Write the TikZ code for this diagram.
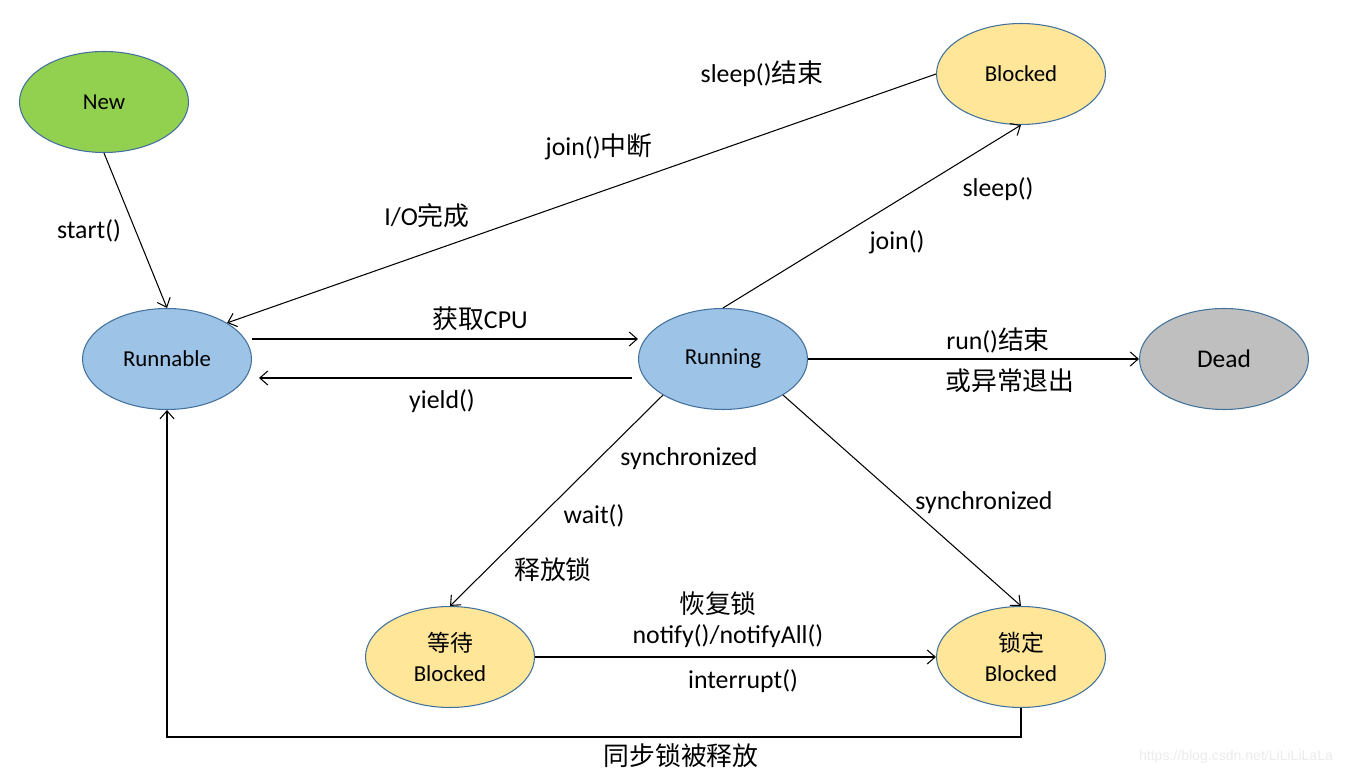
\documentclass[tikz,border=0pt]{standalone}
\usepackage{fontspec}
\setmainfont{Carlito}
\newfontfamily\cjk{Noto Sans CJK SC}
\newfontfamily\wmfont{Liberation Sans}
\usetikzlibrary{shapes.geometric,arrows.meta}

\definecolor{edgeblue}{HTML}{41719C}
\definecolor{newgreen}{HTML}{92D050}
\definecolor{blockyellow}{HTML}{FFE699}
\definecolor{runblue}{HTML}{9DC3E6}
\definecolor{deadgray}{HTML}{BFBFBF}

\newcommand{\zh}[1]{{\cjk #1}}

\tikzset{
  state/.style={ellipse, draw=edgeblue, line width=0.6pt, minimum width=3.38cm,
    minimum height=2.02cm, inner sep=0pt, align=center, font=\fontsize{13}{16}\selectfont},
  lbl/.style={font=\fontsize{14.7}{17}\selectfont, inner sep=0pt},
  trans/.style={line width=0.6pt, -{Straight Barb[length=1.6mm,width=2.8mm]}}
}

\begin{document}
\begin{tikzpicture}[x=0.02cm, y=-0.02cm]
    \useasboundingbox (0,0) rectangle (1350,776);
    % states
    \node[state, fill=newgreen] (new) at (104,102) {New};
    \node[state, fill=blockyellow] (blocked) at (1021,74) {Blocked};
    \node[state, fill=runblue] (runnable) at (167,359) {Runnable};
    \node[state, fill=runblue] (running) at (723,359) {\raisebox{-0.1ex}{Running}};
    \node[state, fill=deadgray, font=\fontsize{14.5}{17}\selectfont] (dead) at (1224,359) {Dead};
    \node[state, fill=blockyellow] (waiting) at (450,657) {\zh{等待}\\[1pt]Blocked};
    \node[state, fill=blockyellow] (locked) at (1021,657) {\zh{锁定}\\[1pt]Blocked};

    % transitions
    \draw[trans] (new.south) -- (runnable.north);
    \draw[trans] (blocked.west) -- (runnable.31);
    \draw[trans] ([yshift=0.4cm]runnable.east) -- ([yshift=0.4cm]running.west);
    \draw[trans, shorten <=0.12cm, shorten >=0.14cm] ([yshift=-0.38cm]running.west) -- ([yshift=-0.38cm]runnable.east);
    \draw[trans] (running.north) -- (blocked.south);
    \draw[trans] (running.east) -- (dead.west);
    \draw[trans] (running.211) -- (waiting.north);
    \draw[trans] (running.329) -- (locked.north);
    \draw[trans] (waiting.east) -- (locked.west);
    \draw[trans] (locked.south) -- ++(0,29) -| (runnable.south);

    % labels
    \node[lbl] (lstart) at (89,231) {start()};
    \node[lbl] (lsleepend) at (762,74) {sleep()\zh{结束}};
    \node[lbl] (ljoinint) at (599,147) {join()\zh{中断}};
    \node[lbl] (liodone) at (427,216) {I/O\zh{完成}};
    \node[lbl] (lcpu) at (480,319) {\zh{获取}CPU};
    \node[lbl] (lyield) at (442,401) {yield()};
    \node[lbl] (lsleep) at (998,189) {sleep()};
    \node[lbl] (ljoin) at (897,242) {join()};
    \node[lbl] (lrunend) at (998,340) {run()\zh{结束}};
    \node[lbl] (lexcept) at (1010,381) {\zh{或异常退出}};
    \node[lbl] (lsyncw) at (689,459) {synchronized};
    \node[lbl] (lwait) at (594,516) {wait()};
    \node[lbl] (lrelease) at (553,570) {\zh{释放锁}};
    \node[lbl] (lsyncl) at (984,503) {synchronized};
    \node[lbl] (lrestore) at (718,604) {\zh{恢复锁}};
    \node[lbl] (lnotify) at (728,636) {notify()/notifyAll()};
    \node[lbl] (linterrupt) at (743,681) {interrupt()};
    \node[lbl] (lfree) at (681,756) {\zh{同步锁被释放}};
    \node[font=\wmfont\fontsize{8}{10}\selectfont, text=black!8, inner sep=0pt] (mark) at (1236,757) {https://blog.csdn.net/LiLiLiLaLa};
\end{tikzpicture}
\end{document}
